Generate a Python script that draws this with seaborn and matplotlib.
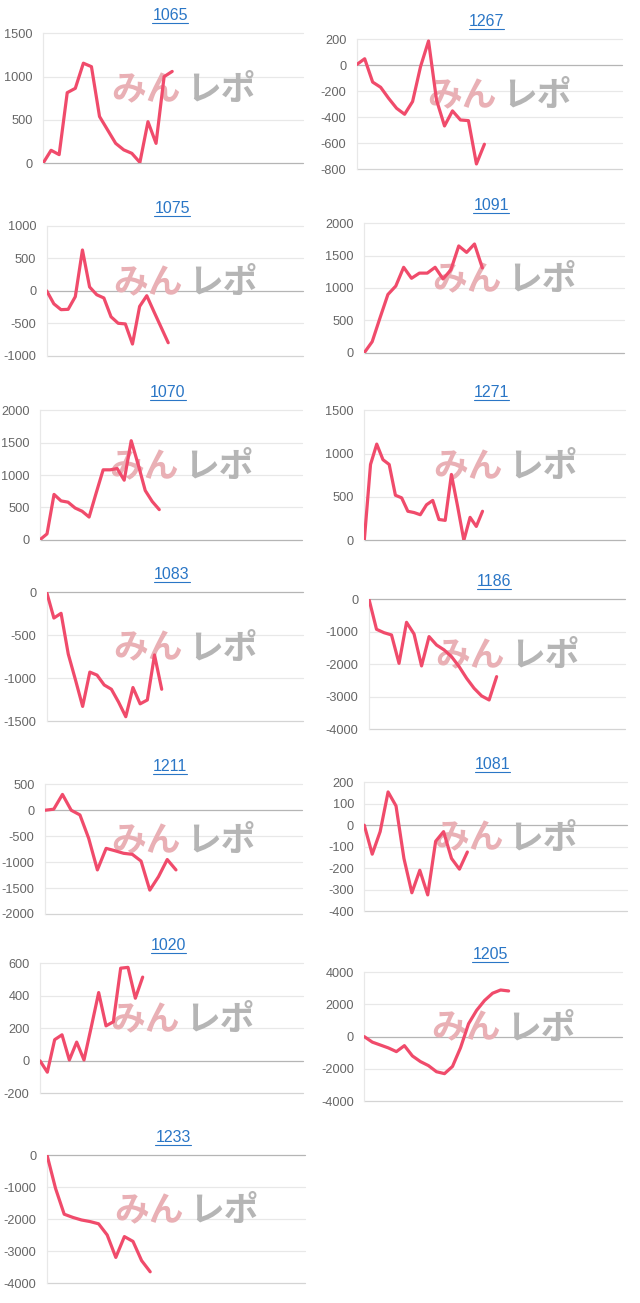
import matplotlib
matplotlib.use("Agg")
import matplotlib.pyplot as plt
from matplotlib.lines import Line2D
from matplotlib.transforms import IdentityTransform
import seaborn as sns
import pandas as pd

# ---------------- data ----------------
titles = ["1065", "1267", "1075", "1091", "1070", "1271", "1083",
          "1186", "1211", "1081", "1020", "1205", "1233"]

v1065 = [0, 150, 100, 815, 865, 1155, 1115, 540, 385, 230, 155, 115, 10, 480, 230, 1000, 1060]
v1267 = [5, 50, -130, -170, -255, -332, -378, -280, -10, 187, -268, -468, -352, -422, -427, -761, -609]
v1075 = [0, -200, -290, -285, -90, 630, 60, -60, -110, -400, -500, -510, -820, -240, -75, -320, -560, -800]
v1091 = [0, 170, 540, 900, 1030, 1320, 1150, 1230, 1230, 1320, 1140, 1280, 1650, 1550, 1680, 1310]
v1070 = [0, 90, 700, 600, 580, 490, 440, 350, 720, 1080, 1080, 1100, 920, 1530, 1160, 760, 590, 465]
v1271 = [0, 875, 1110, 930, 875, 520, 490, 335, 320, 295, 410, 460, 240, 230, 760, 390, 0, 265, 160, 335]
v1083 = [0, -300, -245, -720, -1020, -1330, -930, -965, -1080, -1130, -1280, -1450, -1110, -1300, -1255, -730, -1130]
v1186 = [0, -925, -1030, -1100, -1975, -710, -1070, -2055, -1150, -1410, -1560, -1770, -2075, -2435, -2745, -2980, -3105, -2385]
v1211 = [0, 20, 305, 0, -90, -540, -1150, -735, -780, -830, -850, -980, -1540, -1280, -950, -1150]
v1081 = [0, -135, -30, 155, 90, -155, -315, -210, -325, -75, -30, -155, -205, -125]
v1020 = [0, -70, 130, 160, 5, 115, 5, 210, 420, 215, 240, 570, 575, 385, 515]
v1205 = [0, -340, -520, -700, -930, -560, -1200, -1550, -1800, -2180, -2300, -1850, -690, 800, 1630, 2250, 2700, 2900, 2840]
v1233 = [0, -1050, -1850, -1950, -2030, -2080, -2150, -2500, -3200, -2550, -2700, -3300, -3650]

series = [v1065, v1267, v1075, v1091, v1070, v1271, v1083,
          v1186, v1211, v1081, v1020, v1205, v1233]

t1065 = [0, 500, 1000, 1500]
t1267 = [-800, -600, -400, -200, 0, 200]
t1075 = [-1000, -500, 0, 500, 1000]
t1091 = [0, 500, 1000, 1500, 2000]
t1070 = [0, 500, 1000, 1500, 2000]
t1271 = [0, 500, 1000, 1500]
t1083 = [-1500, -1000, -500, 0]
t1186 = [-4000, -3000, -2000, -1000, 0]
t1211 = [-2000, -1500, -1000, -500, 0, 500]
t1081 = [-400, -300, -200, -100, 0, 100, 200]
t1020 = [-200, 0, 200, 400, 600]
t1205 = [-4000, -2000, 0, 2000, 4000]
t1233 = [-4000, -3000, -2000, -1000, 0]

ticks = [t1065, t1267, t1075, t1091, t1070, t1271, t1083,
         t1186, t1211, t1081, t1020, t1205, t1233]

# ---------------- layout (pixels) ----------------
W, H = 640, 1303
# x0, x1, ytop, ybottom, x-span
boxes = {
    "1065": (43, 303, 33.3, 163.3, 32.2),
    "1267": (356.7, 621.7, 39.3, 169, 33.2),
    "1075": (46.7, 303.3, 226, 355.7, 35.9),
    "1091": (364.3, 624, 223.3, 352.7, 33.0),
    "1070": (40, 301.7, 410.3, 539.7, 37.3),
    "1271": (364.3, 625, 410.3, 540.3, 41.9),
    "1083": (46.7, 303.3, 592.3, 721, 35.7),
    "1186": (369, 625, 599.3, 729, 34.1),
    "1211": (45, 301.7, 784.3, 914, 29.4),
    "1081": (364.3, 626.7, 782.3, 911, 33.1),
    "1020": (40, 303.3, 963.3, 1093.3, 35.9),
    "1205": (364.3, 621.7, 972.3, 1101, 32.1),
    "1233": (47, 305, 1155, 1283, 30.0),
}

sns.set_style("white")
plt.rcParams["font.family"] = ["Liberation Sans", "DejaVu Sans"]

LINE = "#f04b6b"
GRID = "#e8e8e8"
ZERO = "#b5b5b5"

fig = plt.figure(figsize=(W / 100, H / 100), dpi=100)
title_texts = []

for name, vals, tk in zip(titles, series, ticks):
    x0, x1, yt, yb, span = boxes[name]
    ax = fig.add_axes([x0 / W, 1 - yb / H, (x1 - x0) / W, (yb - yt) / H])
    df = pd.DataFrame({"x": list(range(len(vals))), "y": vals})
    sns.lineplot(data=df, x="x", y="y", ax=ax, color=LINE, linewidth=2.3,
                 zorder=5, legend=False)
    ax.set_xlim(0, span)
    ax.set_ylim(tk[0], tk[-1])
    ax.set_yticks(tk)
    ax.set_yticklabels([str(t) for t in tk])
    ax.set_xticks([])
    ax.set_xlabel("")
    ax.set_ylabel("")
    for t in tk:
        if t == 0:
            c = ZERO
        elif t == tk[0]:
            c = "#d4d4d4"
        else:
            c = GRID
        ax.axhline(t, color=c, linewidth=0.9, zorder=1, clip_on=False)
    for s in ["top", "right", "bottom"]:
        ax.spines[s].set_visible(False)
    ax.spines["left"].set_color(GRID)
    ax.spines["left"].set_linewidth(0.9)
    ax.tick_params(axis="y", length=3, width=0.9, color=GRID, pad=4.5,
                   labelsize=9.2, labelcolor="#666666")
    ax.set_facecolor("none")
    # watermark
    ax.text(0.53, 0.565, "みん", transform=ax.transAxes, ha="right", va="center",
            fontsize=25, fontweight="bold", color="#e9b0b5",
            family=["Noto Sans CJK JP", "DejaVu Sans"], zorder=2)
    ax.text(0.55, 0.565, "レポ", transform=ax.transAxes, ha="left", va="center",
            fontsize=25, fontweight="bold", color="#b5b5b5",
            family=["Noto Sans CJK JP", "DejaVu Sans"], zorder=2)
    cx = (x0 + x1) / 2 - 3
    ty = yt - 17.5
    tt = fig.text(cx / W, 1 - ty / H, name, ha="center", va="center",
                  fontsize=11.5, color="#2a76c6")
    title_texts.append(tt)

fig.canvas.draw()
r = fig.canvas.get_renderer()
for tt in title_texts:
    bb = tt.get_window_extent(r)
    yline = bb.y0 + 0.5
    fig.add_artist(Line2D([bb.x0, bb.x1], [yline, yline], color="#2a76c6",
                          linewidth=0.8, transform=IdentityTransform()))

fig.savefig("out.png", dpi=100, facecolor="white")
